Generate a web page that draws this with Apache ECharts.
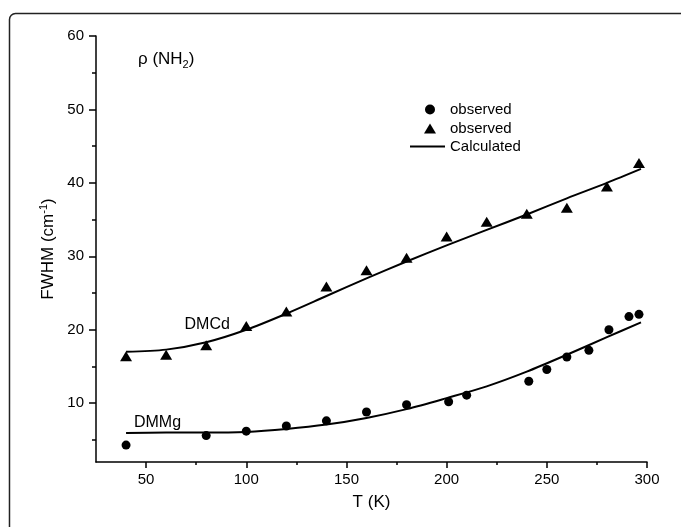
<!DOCTYPE html>
<html>
<head>
<meta charset="utf-8">
<title>FWHM vs T</title>
<script src="https://cdn.jsdelivr.net/npm/echarts@6/dist/echarts.min.js"></script>
<style>
  html, body { margin: 0; padding: 0; background: #fff; }
  #chart { width: 681px; height: 527px; }
</style>
</head>
<body>
<div id="chart"></div>
<script>
// observed points, DMMg (circles)
const tempObsMg = [40, 80, 100, 120, 140, 160, 180, 201, 210, 241, 250, 260, 271, 281, 291, 296]
const fwhmObsMg = [4.3, 5.6, 6.2, 6.9, 7.6, 8.8, 9.8, 10.2, 11.1, 13.0, 14.6, 16.3, 17.2, 20.0, 21.8, 22.1]
// observed points, DMCd (triangles)
const tempObsCd = [40, 60, 80, 100, 120, 140, 160, 180, 200, 220, 240, 260, 280, 296]
const fwhmObsCd = [16.4, 16.6, 17.9, 20.5, 22.5, 25.9, 28.1, 29.8, 32.7, 34.7, 35.8, 36.6, 39.5, 42.7]
// calculated curves
const tempCalc = [40, 60, 80, 100, 120, 140, 160, 180, 200, 220, 240, 260, 280, 297]
const fwhmCalcCd = [17.0, 17.3, 18.3, 20.0, 22.2, 24.6, 27.0, 29.3, 31.5, 33.6, 35.7, 37.9, 40.0, 41.9]
const fwhmCalcMg = [5.95, 6.0, 6.0, 6.1, 6.5, 7.1, 8.0, 9.2, 10.7, 12.3, 14.3, 16.6, 19.0, 21.0]

// axis ticks
const xTicks = [50, 100, 150, 200, 250, 300]
const xMinorTicks = [75, 125, 175, 225, 275]
const yTicks = [10, 20, 30, 40, 50, 60]
const yMinorTicks = [5, 15, 25, 35, 45, 55]

const font = "'Liberation Sans', Arial, sans-serif"
const pair = (xs, ys) => xs.map((x, i) => [x, ys[i]])

const myChart = echarts.init(document.getElementById('chart'))

const baseAxis = {
  type: 'value',
  splitLine: { show: false },
  axisLine: { lineStyle: { color: '#000', width: 1.5 } },
  axisLabel: { color: '#000', fontFamily: font, fontSize: 15 }
}
const legendText = { color: '#000', fontFamily: font, fontSize: 15 }

const option = {
  backgroundColor: '#fff',
  animation: false,
  graphic: [
    {
      // outer rounded frame, cut by the right and bottom edges
      type: 'rect',
      shape: { x: 9.5, y: 13.5, width: 720, height: 580, r: 6 },
      style: { fill: 'none', stroke: '#222', lineWidth: 1.5 },
      silent: true
    },
    {
      type: 'text',
      left: 138,
      top: 51,
      style: {
        text: 'ρ (NH{sub|2})',
        font: '17px ' + font,
        fill: '#000',
        rich: { sub: { fontSize: 11, fontFamily: font, padding: [10, 0, 0, 0] } }
      }
    }
  ],
  grid: { left: 96, right: 34, top: 36, bottom: 65 },
  // one legend per entry so every icon keeps its own size
  legend: [
    {
      left: 420, top: 97,
      itemWidth: 10, itemHeight: 10,
      textStyle: Object.assign({ padding: [0, 0, 0, 10] }, legendText),
      data: [{ name: 'observed', icon: 'circle' }]
    },
    {
      left: 419, top: 116,
      itemWidth: 12, itemHeight: 10,
      textStyle: Object.assign({ padding: [0, 0, 0, 9] }, legendText),
      data: [{ name: 'observed ', icon: 'triangle' }]
    },
    {
      left: 405, top: 134,
      itemWidth: 35, itemHeight: 2,
      textStyle: Object.assign({ padding: [0, 0, 0, 0] }, legendText),
      data: [{ name: 'Calculated', icon: 'rect' }]
    }
  ],
  xAxis: [
    Object.assign({}, baseAxis, {
      min: 25,
      max: 300,
      name: 'T (K)',
      nameLocation: 'middle',
      nameGap: 32,
      nameTextStyle: { color: '#000', fontFamily: font, fontSize: 17 },
      axisTick: { show: true, length: 6, customValues: xTicks, lineStyle: { color: '#000', width: 1.5 } },
      axisLabel: { color: '#000', fontFamily: font, fontSize: 15, margin: 10, customValues: xTicks }
    }),
    {
      // minor ticks only
      type: 'value',
      min: 25,
      max: 300,
      position: 'bottom',
      splitLine: { show: false },
      axisLine: { show: false },
      axisLabel: { show: false },
      axisTick: { show: true, length: 3, customValues: xMinorTicks, lineStyle: { color: '#000', width: 1.5 } }
    }
  ],
  yAxis: [
    Object.assign({}, baseAxis, {
      min: 2,
      max: 60,
      name: 'FWHM (cm{sup|-1})',
      nameLocation: 'middle',
      nameRotate: 90,
      nameGap: 38,
      nameTextStyle: {
        color: '#000', fontFamily: font, fontSize: 17,
        rich: { sup: { fontSize: 11, fontFamily: font, padding: [0, 0, 8, 0] } }
      },
      axisTick: { show: true, length: 7, customValues: yTicks, lineStyle: { color: '#000', width: 1.5 } },
      axisLabel: { color: '#000', fontFamily: font, fontSize: 15, margin: 12, customValues: yTicks }
    }),
    {
      type: 'value',
      min: 2,
      max: 60,
      position: 'left',
      splitLine: { show: false },
      axisLine: { show: false },
      axisLabel: { show: false },
      axisTick: { show: true, length: 4, customValues: yMinorTicks, lineStyle: { color: '#000', width: 1.5 } }
    }
  ],
  series: [
    {
      name: 'observed',
      type: 'scatter',
      symbol: 'circle',
      symbolSize: 9,
      itemStyle: { color: '#000', opacity: 1 },
      data: pair(tempObsMg, fwhmObsMg)
    },
    {
      name: 'observed ',
      type: 'scatter',
      symbol: 'triangle',
      symbolSize: [12, 10],
      itemStyle: { color: '#000', opacity: 1 },
      data: pair(tempObsCd, fwhmObsCd)
    },
    {
      name: 'Calculated',
      type: 'line',
      symbol: 'none',
      smooth: 0.3,
      lineStyle: { color: '#000', width: 2 },
      itemStyle: { color: '#000' },
      data: pair(tempCalc, fwhmCalcCd),
      markPoint: {
        symbol: 'circle',
        symbolSize: 0,
        silent: true,
        label: { show: true, position: 'top', distance: 0, color: '#000', fontFamily: font, fontSize: 16, formatter: 'DMCd' },
        data: [{ coord: [80.5, 19.6] }]
      }
    },
    {
      name: 'Calculated',
      type: 'line',
      symbol: 'none',
      smooth: 0.3,
      lineStyle: { color: '#000', width: 2 },
      itemStyle: { color: '#000' },
      data: pair(tempCalc, fwhmCalcMg),
      markPoint: {
        symbol: 'circle',
        symbolSize: 0,
        silent: true,
        label: { show: true, position: 'top', distance: 0, color: '#000', fontFamily: font, fontSize: 16, formatter: 'DMMg' },
        data: [{ coord: [55.7, 6.3] }]
      }
    }
  ]
}

myChart.setOption(option)
window.addEventListener('resize', function () {
  myChart && myChart.resize()
})
</script>
</body>
</html>
